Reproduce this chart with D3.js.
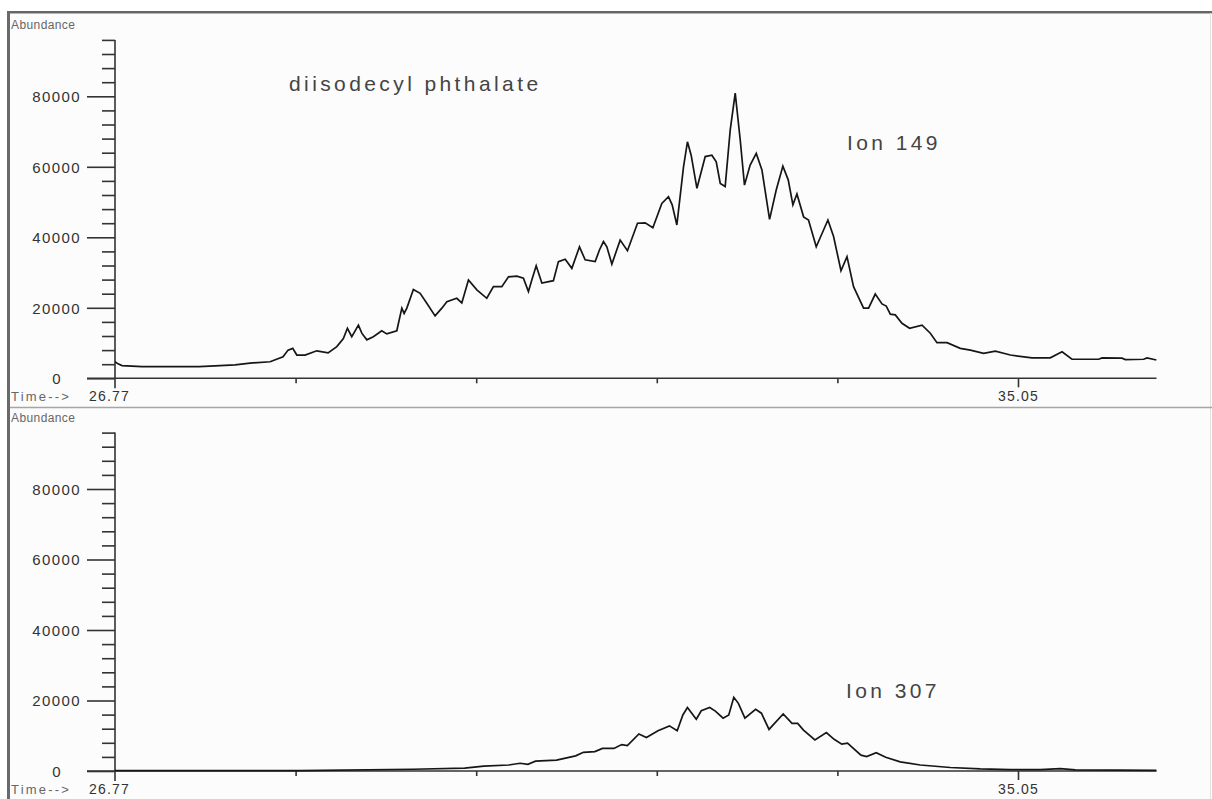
<!DOCTYPE html>
<html>
<head>
<meta charset="utf-8">
<script src="https://cdn.jsdelivr.net/npm/d3@7"></script>
<style>
  body { margin: 0; background: #fff; }
  svg { display: block; font-family: 'Liberation Sans', Arial, sans-serif; }
  .yLbl { fill: #333; font-size: 15px; letter-spacing: 1.4px; }
  .xLbl { fill: #333; font-size: 14px; letter-spacing: 1.2px; }
  .axTitle { fill: #666; font-size: 12px; letter-spacing: 0.4px; }
  .timeTitle { fill: #666; font-size: 13px; letter-spacing: 2.2px; }
  .note { fill: #444; font-size: 21px; letter-spacing: 3.4px; }
</style>
</head>
<body>
<svg id="svg_chrom" width="1212" height="799"></svg>
<script>

// ion 149 trace (time in min, abundance)
const ion149Time = [26.770, 26.798, 26.834, 27.018, 27.348, 27.540, 27.687, 27.871, 28.008, 28.192,
  28.311, 28.357, 28.400, 28.437, 28.513, 28.620, 28.724, 28.804, 28.864, 28.901,
  28.941, 29.002, 29.033, 29.079, 29.139, 29.216, 29.262, 29.354, 29.400, 29.421,
  29.446, 29.506, 29.568, 29.629, 29.705, 29.767, 29.813, 29.904, 29.950, 30.011,
  30.088, 30.179, 30.240, 30.317, 30.378, 30.455, 30.515, 30.561, 30.592, 30.632,
  30.684, 30.790, 30.836, 30.898, 30.959, 31.029, 31.081, 31.173, 31.212, 31.249,
  31.280, 31.326, 31.402, 31.469, 31.561, 31.631, 31.702, 31.784, 31.845, 31.879,
  31.922, 31.983, 32.019, 32.053, 32.106, 32.182, 32.243, 32.283, 32.320, 32.365,
  32.411, 32.457, 32.503, 32.542, 32.594, 32.650, 32.702, 32.772, 32.833, 32.894,
  32.943, 32.986, 33.023, 33.084, 33.129, 33.200, 33.307, 33.359, 33.427, 33.482,
  33.542, 33.634, 33.680, 33.741, 33.803, 33.842, 33.879, 33.925, 33.986, 34.056,
  34.170, 34.246, 34.307, 34.399, 34.521, 34.613, 34.735, 34.842, 34.980, 35.178,
  35.346, 35.454, 35.545, 35.789, 35.821, 36.004, 36.034, 36.202, 36.233, 36.319];
const ion149Abund = [4700, 4100, 3600, 3300, 3300, 3300, 3500, 3800, 4300, 4700,
  6100, 8000, 8500, 6600, 6600, 7800, 7200, 9000, 11300, 14200,
  11800, 15100, 12800, 10900, 11800, 13500, 12600, 13500, 19900, 18400,
  19900, 25200, 24100, 21300, 17700, 19900, 21700, 22700, 21400, 27900,
  25100, 22700, 26000, 26000, 28800, 29000, 28400, 24600, 27900, 31900,
  27000, 27700, 33100, 33800, 31200, 37300, 33600, 33100, 36400, 38800,
  37300, 32400, 39200, 36200, 44000, 44100, 42700, 49600, 51500, 49200,
  43500, 60000, 67100, 63300, 53900, 62900, 63300, 61400, 55300, 54400,
  70400, 80900, 67600, 54800, 60500, 63800, 59100, 45100, 53400, 60200,
  56300, 49200, 52300, 45800, 44900, 37300, 44900, 40200, 30500, 34500,
  26000, 19900, 19900, 23900, 21100, 20500, 18200, 18000, 15600, 14200,
  15100, 12800, 10100, 10100, 8500, 8000, 7100, 7700, 6600, 5800,
  5800, 7500, 5400, 5400, 5800, 5700, 5300, 5400, 5800, 5200];

// ion 307 trace
const ion307Time = [26.770, 28.467, 29.503, 29.977, 30.152, 30.380, 30.485, 30.556, 30.626, 30.819,
  30.994, 31.065, 31.170, 31.240, 31.345, 31.416, 31.468, 31.574, 31.643, 31.749,
  31.854, 31.925, 31.977, 32.019, 32.100, 32.146, 32.223, 32.275, 32.346, 32.398,
  32.444, 32.486, 32.546, 32.644, 32.697, 32.767, 32.897, 32.978, 33.030, 33.083,
  33.188, 33.293, 33.364, 33.434, 33.487, 33.610, 33.662, 33.750, 33.837, 33.970,
  34.154, 34.429, 34.704, 34.980, 35.255, 35.438, 35.576, 36.319];
const ion307Abund = [100, 100, 500, 800, 1400, 1700, 2200, 1900, 2800, 3100,
  4300, 5300, 5500, 6400, 6400, 7500, 7200, 10500, 9500, 11400,
  12800, 11400, 15900, 18000, 14700, 17100, 18000, 17000, 15000, 15900,
  20900, 19200, 15000, 17500, 16400, 11800, 16200, 13500, 13500, 11600,
  8800, 10900, 9000, 7600, 7900, 4500, 4100, 5200, 3900, 2600,
  1700, 1000, 600, 400, 400, 700, 300, 200];

const yLabelStep = 20000;
const yMinorStep = 4000;
const yTop = 96000;
const xTickLabels = ['26.77', '35.05'];
const ionLabels = ['Ion 149', 'Ion 307'];
const compoundName = 'diisodecyl phthalate';

const svg = d3.select('#svg_chrom');
const width = 1212, height = 799;

// frame
svg.append('rect').attr('x', 9).attr('y', 13).attr('width', width - 10).attr('height', height - 13)
  .attr('fill', '#fcfcfc');
svg.append('line').attr('x1', 8.5).attr('x2', 8.5).attr('y1', 11).attr('y2', height)
  .attr('stroke', '#6a6a6a').attr('stroke-width', 3);
svg.append('line').attr('x1', 7).attr('x2', width).attr('y1', 12).attr('y2', 12)
  .attr('stroke', '#666').attr('stroke-width', 2);
svg.append('line').attr('x1', 10).attr('x2', width).attr('y1', 13.5).attr('y2', 13.5)
  .attr('stroke', '#b5b5b5').attr('stroke-width', 1);
svg.append('line').attr('x1', 1210.5).attr('x2', 1210.5).attr('y1', 13).attr('y2', height)
  .attr('stroke', '#e2e2e2').attr('stroke-width', 1);
svg.append('line').attr('x1', 10).attr('x2', width).attr('y1', 407.5).attr('y2', 407.5)
  .attr('stroke', '#a5a5a5').attr('stroke-width', 1.5);

const x = d3.scaleLinear().domain([26.77, 36.32]).range([115, 1156.5]);
const tStep = (35.05 - 26.77) / 5;
const xTicks = d3.range(6).map(k => 26.77 + k * tStep);

const panels = [
  { time: ion149Time, abund: ion149Abund, label: ionLabels[0], base: 378.3, lx: 847, ly: 150 },
  { time: ion307Time, abund: ion307Abund, label: ionLabels[1], base: 771, lx: 846, ly: 698 }
];

panels.forEach((p, pi) => {
  const g = svg.append('g').attr('class', 'panel');

  const y = d3.scaleLinear().domain([0, 80000]).range([p.base, p.base - 282]);

  // y axis
  const yAxis = d3.axisLeft(y)
    .tickValues(d3.range(0, yTop + 1, yMinorStep))
    .tickSizeOuter(0)
    .tickFormat(d => d % yLabelStep === 0 ? d : '');

  g.append('g')
    .attr('transform', `translate(${x.range()[0]},0)`)
    .call(yAxis)
    .call(a => a.select('.domain').remove())
    .call(a => a.selectAll('.tick line')
      .attr('x2', d => d % yLabelStep === 0 ? -28 : -13)
      .attr('stroke', '#333').attr('stroke-width', 1.6))
    .call(a => a.selectAll('.tick text')
      .attr('class', 'yLbl')
      .attr('x', d => d === 0 ? -53 : -34)
      .attr('dy', '0.36em'))
    .attr('font-family', null).attr('font-size', null);

  g.append('line')
    .attr('x1', x.range()[0]).attr('x2', x.range()[0])
    .attr('y1', y(yTop)).attr('y2', p.base + 10)
    .attr('stroke', '#333').attr('stroke-width', 1.6);

  // x axis
  const xAxis = d3.axisBottom(x)
    .tickValues(xTicks)
    .tickSizeOuter(0)
    .tickFormat((d, i) => i === 0 ? xTickLabels[0] : (i === 5 ? xTickLabels[1] : ''));

  g.append('g')
    .attr('transform', `translate(0,${p.base})`)
    .call(xAxis)
    .call(a => a.select('.domain').remove())
    .call(a => a.selectAll('.tick line')
      .attr('y2', (d, i) => i === 0 ? 0 : (i === 5 ? 9 : 5))
      .attr('stroke', '#333').attr('stroke-width', 1.6))
    .call(a => a.selectAll('.tick text')
      .attr('class', 'xLbl')
      .attr('x', (d, i) => i === 0 ? -6 : 0)
      .attr('y', 23).attr('dy', 0))
    .attr('font-family', null).attr('font-size', null);

  g.append('line')
    .attr('x1', x.range()[0] - 28).attr('x2', x.range()[1])
    .attr('y1', p.base).attr('y2', p.base)
    .attr('stroke', '#333').attr('stroke-width', 1.6);

  // axis titles
  g.append('text').attr('class', 'axTitle')
    .attr('x', 11).attr('y', p.base - 349.3)
    .text('Abundance');
  g.append('text').attr('class', 'timeTitle')
    .attr('x', 11).attr('y', p.base + 23)
    .text('Time-->');

  // trace
  const data = p.time.map((t, i) => ({ t: t, a: p.abund[i] }));
  const traceLine = d3.line()
    .x(d => x(d.t))
    .y(d => y(d.a));

  g.selectAll('.trace').data([data])
    .join('path')
    .attr('class', 'trace')
    .attr('d', traceLine)
    .style('fill', 'none')
    .style('stroke', '#161616')
    .style('stroke-width', 1.7)
    .style('stroke-linejoin', 'miter');

  // ion label
  g.append('text').attr('class', 'note')
    .attr('x', p.lx).attr('y', p.ly)
    .text(p.label);

  if (pi === 0) {
    g.append('text').attr('class', 'note')
      .attr('x', 289).attr('y', 91)
      .text(compoundName);
  }
});

</script>
</body>
</html>
